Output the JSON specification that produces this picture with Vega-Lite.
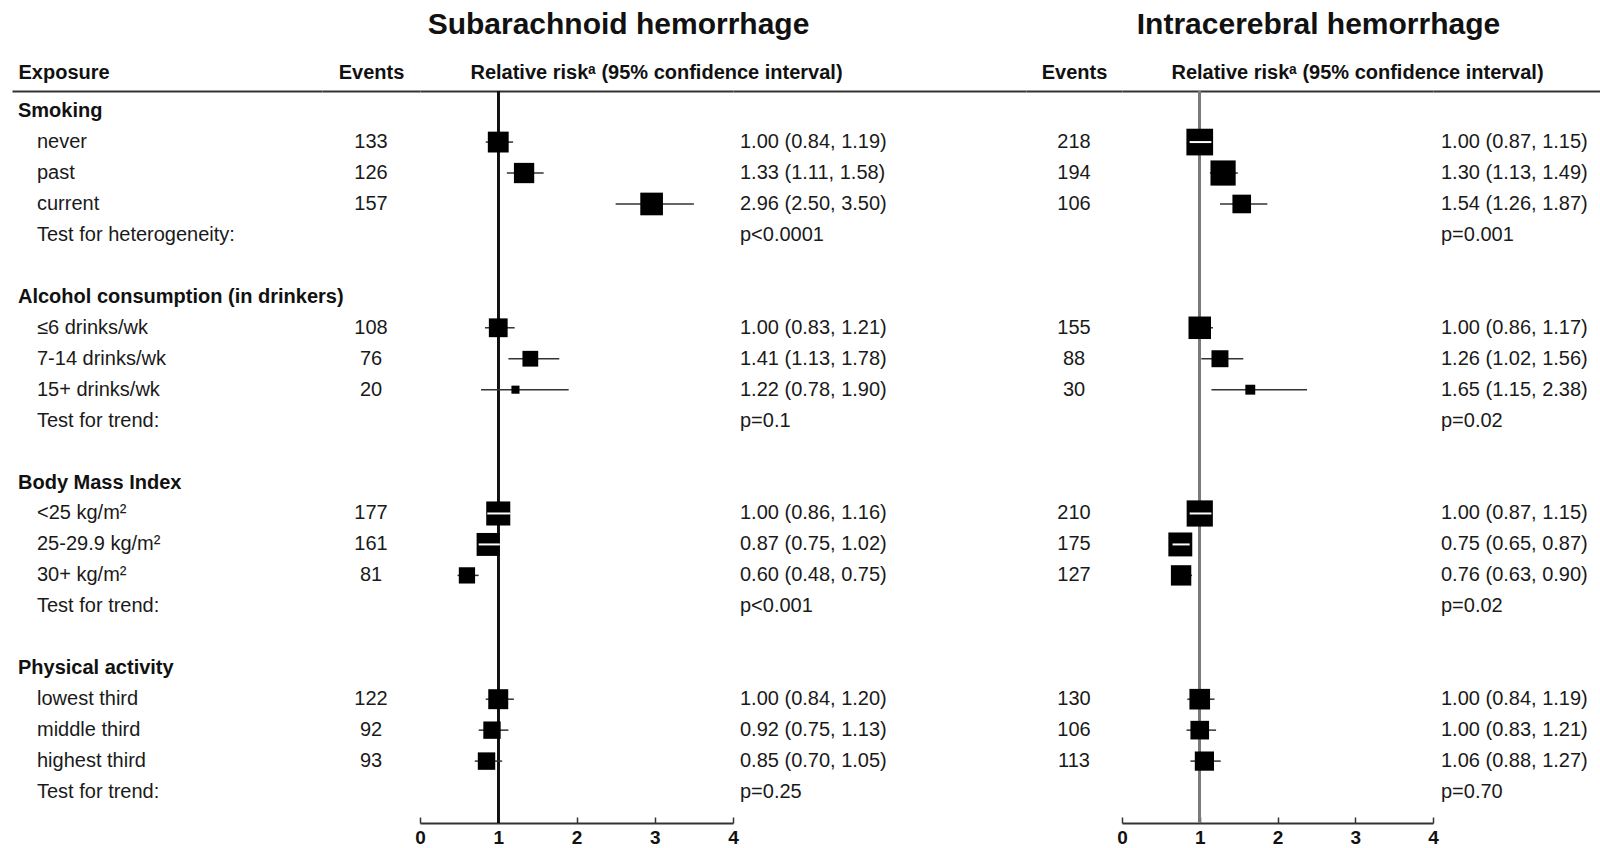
{
  "$schema": "https://vega.github.io/schema/vega-lite/v6.json",
  "padding": {"left": 12, "top": 10, "right": 0, "bottom": 0},
  "spacing": 0,
  "bounds": "flush",
  "background": "white",
  "config": {
    "view": {"stroke": null},
    "font": "Liberation Sans",
    "axis": {"titleFont": "Liberation Sans", "labelFont": "Liberation Sans"},
    "title": {"font": "Liberation Sans"}
  },
  "datasets": {
    "rows": [
      {"row": 0, "label": "Smoking", "type": "group"},
      {"row": 1, "label": "never", "type": "item"},
      {"row": 2, "label": "past", "type": "item"},
      {"row": 3, "label": "current", "type": "item"},
      {"row": 4, "label": "Test for heterogeneity:", "type": "test"},
      {"row": 6, "label": "Alcohol consumption (in drinkers)", "type": "group"},
      {"row": 7, "label": "≤6 drinks/wk", "type": "item"},
      {"row": 8, "label": "7-14 drinks/wk", "type": "item"},
      {"row": 9, "label": "15+ drinks/wk", "type": "item"},
      {"row": 10, "label": "Test for trend:", "type": "test"},
      {"row": 12, "label": "Body Mass Index", "type": "group"},
      {"row": 13, "label": "<25 kg/m²", "type": "item"},
      {"row": 14, "label": "25-29.9 kg/m²", "type": "item"},
      {"row": 15, "label": "30+ kg/m²", "type": "item"},
      {"row": 16, "label": "Test for trend:", "type": "test"},
      {"row": 18, "label": "Physical activity", "type": "group"},
      {"row": 19, "label": "lowest third", "type": "item"},
      {"row": 20, "label": "middle third", "type": "item"},
      {"row": 21, "label": "highest third", "type": "item"},
      {"row": 22, "label": "Test for trend:", "type": "test"}
    ],
    "est": [
      {"outcome": "SAH", "row": 1, "events": 133, "rr": 1.00, "lo": 0.84, "hi": 1.19, "txt": "1.00 (0.84, 1.19)"},
      {"outcome": "SAH", "row": 2, "events": 126, "rr": 1.33, "lo": 1.11, "hi": 1.58, "txt": "1.33 (1.11, 1.58)"},
      {"outcome": "SAH", "row": 3, "events": 157, "rr": 2.96, "lo": 2.50, "hi": 3.50, "txt": "2.96 (2.50, 3.50)"},
      {"outcome": "SAH", "row": 4, "txt": "p<0.0001"},
      {"outcome": "SAH", "row": 7, "events": 108, "rr": 1.00, "lo": 0.83, "hi": 1.21, "txt": "1.00 (0.83, 1.21)"},
      {"outcome": "SAH", "row": 8, "events": 76, "rr": 1.41, "lo": 1.13, "hi": 1.78, "txt": "1.41 (1.13, 1.78)"},
      {"outcome": "SAH", "row": 9, "events": 20, "rr": 1.22, "lo": 0.78, "hi": 1.90, "txt": "1.22 (0.78, 1.90)"},
      {"outcome": "SAH", "row": 10, "txt": "p=0.1"},
      {"outcome": "SAH", "row": 13, "events": 177, "rr": 1.00, "lo": 0.86, "hi": 1.16, "txt": "1.00 (0.86, 1.16)"},
      {"outcome": "SAH", "row": 14, "events": 161, "rr": 0.87, "lo": 0.75, "hi": 1.02, "txt": "0.87 (0.75, 1.02)"},
      {"outcome": "SAH", "row": 15, "events": 81, "rr": 0.60, "lo": 0.48, "hi": 0.75, "txt": "0.60 (0.48, 0.75)"},
      {"outcome": "SAH", "row": 16, "txt": "p<0.001"},
      {"outcome": "SAH", "row": 19, "events": 122, "rr": 1.00, "lo": 0.84, "hi": 1.20, "txt": "1.00 (0.84, 1.20)"},
      {"outcome": "SAH", "row": 20, "events": 92, "rr": 0.92, "lo": 0.75, "hi": 1.13, "txt": "0.92 (0.75, 1.13)"},
      {"outcome": "SAH", "row": 21, "events": 93, "rr": 0.85, "lo": 0.70, "hi": 1.05, "txt": "0.85 (0.70, 1.05)"},
      {"outcome": "SAH", "row": 22, "txt": "p=0.25"},
      {"outcome": "ICH", "row": 1, "events": 218, "rr": 1.00, "lo": 0.87, "hi": 1.15, "txt": "1.00 (0.87, 1.15)"},
      {"outcome": "ICH", "row": 2, "events": 194, "rr": 1.30, "lo": 1.13, "hi": 1.49, "txt": "1.30 (1.13, 1.49)"},
      {"outcome": "ICH", "row": 3, "events": 106, "rr": 1.54, "lo": 1.26, "hi": 1.87, "txt": "1.54 (1.26, 1.87)"},
      {"outcome": "ICH", "row": 4, "txt": "p=0.001"},
      {"outcome": "ICH", "row": 7, "events": 155, "rr": 1.00, "lo": 0.86, "hi": 1.17, "txt": "1.00 (0.86, 1.17)"},
      {"outcome": "ICH", "row": 8, "events": 88, "rr": 1.26, "lo": 1.02, "hi": 1.56, "txt": "1.26 (1.02, 1.56)"},
      {"outcome": "ICH", "row": 9, "events": 30, "rr": 1.65, "lo": 1.15, "hi": 2.38, "txt": "1.65 (1.15, 2.38)"},
      {"outcome": "ICH", "row": 10, "txt": "p=0.02"},
      {"outcome": "ICH", "row": 13, "events": 210, "rr": 1.00, "lo": 0.87, "hi": 1.15, "txt": "1.00 (0.87, 1.15)"},
      {"outcome": "ICH", "row": 14, "events": 175, "rr": 0.75, "lo": 0.65, "hi": 0.87, "txt": "0.75 (0.65, 0.87)"},
      {"outcome": "ICH", "row": 15, "events": 127, "rr": 0.76, "lo": 0.63, "hi": 0.90, "txt": "0.76 (0.63, 0.90)"},
      {"outcome": "ICH", "row": 16, "txt": "p=0.02"},
      {"outcome": "ICH", "row": 19, "events": 130, "rr": 1.00, "lo": 0.84, "hi": 1.19, "txt": "1.00 (0.84, 1.19)"},
      {"outcome": "ICH", "row": 20, "events": 106, "rr": 1.00, "lo": 0.83, "hi": 1.21, "txt": "1.00 (0.83, 1.21)"},
      {"outcome": "ICH", "row": 21, "events": 113, "rr": 1.06, "lo": 0.88, "hi": 1.27, "txt": "1.06 (0.88, 1.27)"},
      {"outcome": "ICH", "row": 22, "txt": "p=0.70"}
    ]
  },
  "hconcat": [
    {
      "width": 310, "height": 732,
      "data": {"name": "rows"},
      "encoding": {
        "x": {"datum": 0, "type": "quantitative", "scale": {"domain": [0, 1]},
          "axis": {"orient": "top", "domain": true, "domainColor": "#333", "domainWidth": 2, "ticks": false, "labels": false, "grid": false,
            "title": "Exposure", "titleX": 6, "titleAlign": "left", "titleFontSize": 20, "titleFontWeight": "bold", "titleColor": "#111", "titlePadding": 13, "titleBaseline": "alphabetic"}},
        "y": {"field": "row", "type": "quantitative", "scale": {"domain": [-0.65, 23], "reverse": true, "nice": false, "zero": false}, "axis": null}
      },
      "layer": [
        {"transform": [{"filter": "datum.type === 'group'"}],
         "mark": {"type": "text", "align": "left", "baseline": "middle", "dx": 6, "fontSize": 20, "fontWeight": "bold", "fill": "#111"},
         "encoding": {"text": {"field": "label"}}},
        {"transform": [{"filter": "datum.type !== 'group'"}],
         "mark": {"type": "text", "align": "left", "baseline": "middle", "dx": 25, "fontSize": 20, "fill": "#1a1a1a"},
         "encoding": {"text": {"field": "label"}}}
      ]
    },
    {
      "width": 98, "height": 732,
      "data": {"name": "est"},
      "transform": [{"filter": "datum.outcome === 'SAH' && isValid(datum.events)"}],
      "mark": {"type": "text", "align": "center", "baseline": "middle", "fontSize": 20, "fill": "#1a1a1a"},
      "encoding": {
        "x": {"datum": 0, "type": "quantitative", "scale": {"domain": [-1, 1]},
          "axis": {"orient": "top", "domain": true, "domainColor": "#333", "domainWidth": 2, "ticks": false, "labels": false, "grid": false,
            "title": "Events", "titleFontSize": 20, "titleFontWeight": "bold", "titleColor": "#111", "titlePadding": 13, "titleBaseline": "alphabetic"}},
        "y": {"field": "row", "type": "quantitative", "scale": {"domain": [-0.65, 23], "reverse": true, "nice": false, "zero": false}, "axis": null},
        "text": {"field": "events"}
      }
    },
    {
      "width": 313, "height": 732,
      "title": {"text": "Subarachnoid hemorrhage", "fontSize": 30, "fontWeight": "bold", "color": "#111", "anchor": "middle", "dx": 42, "offset": 22},
      "data": {"name": "est"},
      "transform": [{"filter": "datum.outcome === 'SAH' && isValid(datum.events)"}],
      "layer": [
        {"mark": {"type": "rule", "color": "#111", "strokeWidth": 2},
         "encoding": {"x": {"datum": 1, "type": "quantitative", "axis": null}}},
        {"mark": {"type": "rule", "color": "#333", "strokeWidth": 1.5},
         "encoding": {
           "x": {"field": "lo", "type": "quantitative", "scale": {"domain": [0, 4], "nice": false, "zero": false},
             "axis": {"orient": "bottom", "values": [0, 1, 2, 3, 4], "format": "d", "domain": true, "domainColor": "#333", "domainWidth": 2,
               "ticks": true, "tickSize": -6, "tickColor": "#333", "tickWidth": 1.5, "labelFontSize": 19, "labelFontWeight": "bold", "labelColor": "#111", "labelPadding": 11, "labelFlush": false, "grid": false, "title": null}},
           "x2": {"field": "hi"},
           "y": {"field": "row", "type": "quantitative", "scale": {"domain": [-0.65, 23], "reverse": true, "nice": false, "zero": false}, "axis": null}
         }},
        {"mark": {"type": "point", "shape": "square", "filled": true, "color": "#000", "opacity": 1, "strokeWidth": 0},
         "encoding": {
           "x": {"field": "rr", "type": "quantitative",
             "axis": {"orient": "top", "domain": true, "domainColor": "#333", "domainWidth": 2, "ticks": false, "labels": false, "grid": false,
               "title": "Relative riskᵃ (95% confidence interval)", "titleX": 236, "titleAlign": "center", "titleFontSize": 20, "titleFontWeight": "bold", "titleColor": "#111", "titlePadding": 13, "titleBaseline": "alphabetic"}},
           "y": {"field": "row", "type": "quantitative"},
           "size": {"field": "events", "type": "quantitative", "scale": {"type": "linear", "domain": [0, 218], "range": [0, 713]}, "legend": null}
         }},
        {"transform": [{"filter": "(datum.hi - datum.lo) * 78 < 1.81 * sqrt(datum.events)"}],
         "mark": {"type": "rule", "color": "white", "strokeWidth": 2},
         "encoding": {
           "x": {"field": "lo", "type": "quantitative", "axis": null},
           "x2": {"field": "hi"},
           "y": {"field": "row", "type": "quantitative"}
         }}
      ],
      "resolve": {"axis": {"x": "independent"}}
    },
    {
      "width": 293, "height": 732,
      "data": {"name": "est"},
      "transform": [{"filter": "datum.outcome === 'SAH'"}],
      "mark": {"type": "text", "align": "left", "baseline": "middle", "dx": 7, "fontSize": 20, "fill": "#1a1a1a"},
      "encoding": {
        "x": {"datum": 0, "type": "quantitative", "scale": {"domain": [0, 1]},
          "axis": {"orient": "top", "domain": true, "domainColor": "#333", "domainWidth": 2, "ticks": false, "labels": false, "grid": false, "title": null}},
        "y": {"field": "row", "type": "quantitative", "scale": {"domain": [-0.65, 23], "reverse": true, "nice": false, "zero": false}, "axis": null},
        "text": {"field": "txt"}
      }
    },
    {
      "width": 96, "height": 732,
      "data": {"name": "est"},
      "transform": [{"filter": "datum.outcome === 'ICH' && isValid(datum.events)"}],
      "mark": {"type": "text", "align": "center", "baseline": "middle", "fontSize": 20, "fill": "#1a1a1a"},
      "encoding": {
        "x": {"datum": 0, "type": "quantitative", "scale": {"domain": [-1, 1]},
          "axis": {"orient": "top", "domain": true, "domainColor": "#333", "domainWidth": 2, "ticks": false, "labels": false, "grid": false,
            "title": "Events", "titleFontSize": 20, "titleFontWeight": "bold", "titleColor": "#111", "titlePadding": 13, "titleBaseline": "alphabetic"}},
        "y": {"field": "row", "type": "quantitative", "scale": {"domain": [-0.65, 23], "reverse": true, "nice": false, "zero": false}, "axis": null},
        "text": {"field": "events"}
      }
    },
    {
      "width": 311, "height": 732,
      "title": {"text": "Intracerebral hemorrhage", "fontSize": 30, "fontWeight": "bold", "color": "#111", "anchor": "middle", "dx": 41, "offset": 22},
      "data": {"name": "est"},
      "transform": [{"filter": "datum.outcome === 'ICH' && isValid(datum.events)"}],
      "layer": [
        {"mark": {"type": "rule", "color": "#7a7a7a", "strokeWidth": 2.5},
         "encoding": {"x": {"datum": 1, "type": "quantitative", "axis": null}}},
        {"mark": {"type": "rule", "color": "#333", "strokeWidth": 1.5},
         "encoding": {
           "x": {"field": "lo", "type": "quantitative", "scale": {"domain": [0, 4], "nice": false, "zero": false},
             "axis": {"orient": "bottom", "values": [0, 1, 2, 3, 4], "format": "d", "domain": true, "domainColor": "#333", "domainWidth": 2,
               "ticks": true, "tickSize": -6, "tickColor": "#333", "tickWidth": 1.5, "labelFontSize": 19, "labelFontWeight": "bold", "labelColor": "#111", "labelPadding": 11, "labelFlush": false, "grid": false, "title": null}},
           "x2": {"field": "hi"},
           "y": {"field": "row", "type": "quantitative", "scale": {"domain": [-0.65, 23], "reverse": true, "nice": false, "zero": false}, "axis": null}
         }},
        {"mark": {"type": "point", "shape": "square", "filled": true, "color": "#000", "opacity": 1, "strokeWidth": 0},
         "encoding": {
           "x": {"field": "rr", "type": "quantitative",
             "axis": {"orient": "top", "domain": true, "domainColor": "#333", "domainWidth": 2, "ticks": false, "labels": false, "grid": false,
               "title": "Relative riskᵃ (95% confidence interval)", "titleX": 235, "titleAlign": "center", "titleFontSize": 20, "titleFontWeight": "bold", "titleColor": "#111", "titlePadding": 13, "titleBaseline": "alphabetic"}},
           "y": {"field": "row", "type": "quantitative"},
           "size": {"field": "events", "type": "quantitative", "scale": {"type": "linear", "domain": [0, 218], "range": [0, 713]}, "legend": null}
         }},
        {"transform": [{"filter": "(datum.hi - datum.lo) * 78 < 1.81 * sqrt(datum.events)"}],
         "mark": {"type": "rule", "color": "white", "strokeWidth": 2},
         "encoding": {
           "x": {"field": "lo", "type": "quantitative", "axis": null},
           "x2": {"field": "hi"},
           "y": {"field": "row", "type": "quantitative"}
         }}
      ],
      "resolve": {"axis": {"x": "independent"}}
    },
    {
      "width": 167, "height": 732,
      "data": {"name": "est"},
      "transform": [{"filter": "datum.outcome === 'ICH'"}],
      "mark": {"type": "text", "align": "left", "baseline": "middle", "dx": 8, "fontSize": 20, "fill": "#1a1a1a"},
      "encoding": {
        "x": {"datum": 0, "type": "quantitative", "scale": {"domain": [0, 1]},
          "axis": {"orient": "top", "domain": true, "domainColor": "#333", "domainWidth": 2, "ticks": false, "labels": false, "grid": false, "title": null}},
        "y": {"field": "row", "type": "quantitative", "scale": {"domain": [-0.65, 23], "reverse": true, "nice": false, "zero": false}, "axis": null},
        "text": {"field": "txt"}
      }
    }
  ]
}
